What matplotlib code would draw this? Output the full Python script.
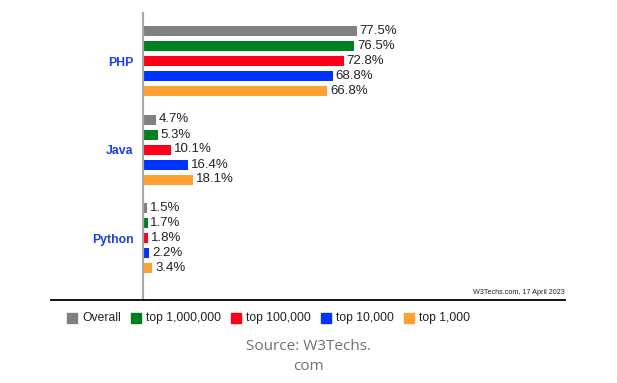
import matplotlib
matplotlib.use("Agg")
import matplotlib.pyplot as plt
from matplotlib.patches import Rectangle
from matplotlib.lines import Line2D

languages = ["PHP", "Java", "Python"]
series_names = ["Overall", "top 1,000,000", "top 100,000", "top 10,000", "top 1,000"]
values = {
    "Overall":       [77.5, 4.7, 1.5],
    "top 1,000,000": [76.5, 5.3, 1.7],
    "top 100,000":   [72.8, 10.1, 1.8],
    "top 10,000":    [68.8, 16.4, 2.2],
    "top 1,000":     [66.8, 18.1, 3.4],
}
colors = ["#808080", "#008020", "#ff0019", "#0033ff", "#ffa033"]

W, H = 617, 383
fig = plt.figure(figsize=(W / 100, H / 100), dpi=100)
plt.rcParams['font.family'] = ['Liberation Sans', 'DejaVu Sans']

left, right, top, bottom = 143, 565, 13, 299
ax = fig.add_axes([left / W, 1 - bottom / H, (right - left) / W, (bottom - top) / H])

px_per_unit = 2.76
ax.set_xlim(0, (right - left) / px_per_unit)
group_px = 88.5
bar_step = 15 / group_px
bar_h = 10 / group_px
ax.set_ylim(2 + 61 / group_px, -48 / group_px)

for i, name in enumerate(series_names):
    for g, v in enumerate(values[name]):
        y = g + (i - 2) * bar_step
        ax.barh(y, v, height=bar_h, color=colors[i], linewidth=0)
        ax.text(v + 1.0, y, f"{v}%", va="center", ha="left", fontsize=9.5, color="#222222")

ax.set_yticks(range(len(languages)))
ax.set_yticklabels(languages, fontsize=8.8, fontweight="bold", color="#1a3ee8")
ax.tick_params(axis="y", length=0, pad=7)
ax.set_xticks([])
for s in ["top", "right", "bottom"]:
    ax.spines[s].set_visible(False)
ax.spines["left"].set_color("#a8a8a8")
ax.spines["left"].set_linewidth(1.6)

# bottom rule across the figure
fig.add_artist(Line2D([51 / W, 565 / W], [1 - 299.5 / H, 1 - 299.5 / H], color="black", lw=1.3))
fig.text(565 / W, 1 - 294 / H, "W3Techs.com, 17 April 2023", ha="right", va="baseline",
         fontsize=5.2, color="#222222")

# legend
leg_x = [67, 131, 231, 321, 404]
for i, name in enumerate(series_names):
    x0 = leg_x[i]
    fig.add_artist(Rectangle((x0 / W, 1 - 323 / H), 10 / W, 10 / H, color=colors[i], transform=fig.transFigure))
    fig.text((x0 + 15) / W, 1 - 318 / H, name, ha="left", va="center", fontsize=8.7, color="#222222")

fig.text(308 / W, 1 - 346 / H, "Source: W3Techs.", ha="center", va="center",
         fontsize=11, color="#707070", family=["Open Sans", "DejaVu Sans"])
fig.text(308 / W, 1 - 366 / H, "com", ha="center", va="center",
         fontsize=11, color="#707070", family=["Open Sans", "DejaVu Sans"])

fig.savefig("out.png", dpi=100)
